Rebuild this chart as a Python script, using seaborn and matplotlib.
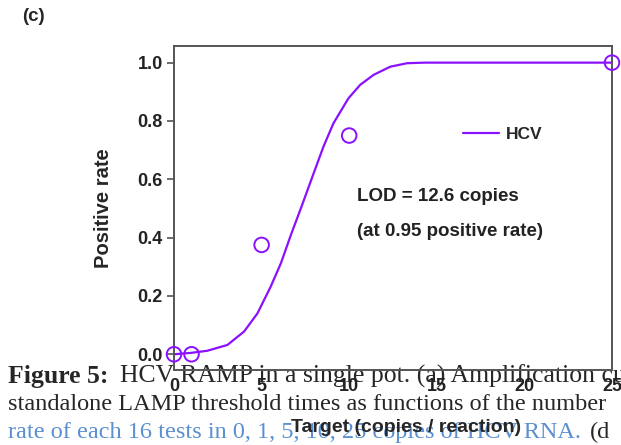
import seaborn as sns
import pandas as pd
import matplotlib
matplotlib.use('Agg')
import matplotlib.pyplot as plt

# measured points
target = [0, 1, 5, 10, 25]
rate = [0, 0, 0.375, 0.75, 1.0]

# fitted curve
curve_x = [0, 0.2, 1, 1.9, 3.05, 4.0, 4.76, 5.52, 6.1, 6.67, 7.3, 7.87, 8.53, 9.1,
           9.96, 10.63, 11.39, 12.34, 13.3, 14.3, 15.5, 17, 20, 25]
curve_y = [0, 0.001, 0.005, 0.012, 0.032, 0.078, 0.14, 0.232, 0.312, 0.409, 0.51,
           0.604, 0.712, 0.792, 0.878, 0.924, 0.958, 0.986, 0.998, 1.0, 1.0, 1.0,
           1.0, 1.0]

x_ticks = [0, 5, 10, 15, 20, 25]
y_ticks = [0.0, 0.2, 0.4, 0.6, 0.8, 1.0]

pts = pd.DataFrame({'target': target, 'rate': rate})
fit = pd.DataFrame({'target': curve_x, 'rate': curve_y})

sns.set_style('ticks')
plt.rcParams['font.family'] = ['Liberation Sans', 'DejaVu Sans']

purple = '#8a10ff'
fig = plt.figure(figsize=(6.21, 4.45), dpi=100)
ax = fig.add_axes([0.2802, 0.1685, 0.7053, 0.7281])
ax.set_facecolor('none')

sns.lineplot(data=fit, x='target', y='rate', color=purple, linewidth=1.6, ax=ax, label='HCV')
sns.scatterplot(data=pts, x='target', y='rate', marker='o', s=110, facecolor='none',
                edgecolor=purple, linewidth=1.4, ax=ax, clip_on=False, zorder=5)

ax.set_xlim(0, 25)
ax.set_ylim(-0.054, 1.057)
ax.set_xticks(x_ticks)
ax.set_yticks(y_ticks)
ax.set_xticklabels([str(v) for v in x_ticks], fontsize=13, fontweight='bold', color='#222222')
ax.set_yticklabels(['%.1f' % v for v in y_ticks], fontsize=13, fontweight='bold', color='#222222')
ax.tick_params(axis='y', length=5, width=1.2, color='#555555', pad=3)
ax.tick_params(axis='x', length=0, pad=6)
ax.set_xlabel('Target (copies / reaction)', fontsize=14, fontweight='bold')
ax.xaxis.set_label_coords(0.53, -0.15)
ax.set_ylabel('Positive rate', fontsize=14.5, fontweight='bold', labelpad=18)
for s in ax.spines.values():
    s.set_visible(True)
    s.set_color('#555555')
    s.set_linewidth(1.4)

leg = ax.legend(loc='upper left', bbox_to_anchor=(0.624, 0.80), frameon=False,
                prop={'weight': 'bold', 'size': 12.5}, handlelength=2.07, handletextpad=0.4)

ax.text(0.417, 0.534, 'LOD = 12.6 copies', transform=ax.transAxes, fontsize=13.5,
        fontweight='bold', va='center', color='#222222')
ax.text(0.417, 0.426, '(at 0.95 positive rate)', transform=ax.transAxes, fontsize=13.5,
        fontweight='bold', va='center', color='#222222')

fig.text(0.035, 0.962, '(c)', fontsize=13.5, fontweight='bold', va='center')

# caption underneath the chart
serif = ['Liberation Serif', 'DejaVu Serif']
cap = 17.5
fig.text(0.013, 0.155, 'Figure 5:', family=serif, fontsize=18.5, fontweight='bold',
         va='center', zorder=-1)
fig.text(0.193, 0.155, 'HCV RAMP in a single pot. (a) Amplification cu', family=serif,
         fontsize=18.5, va='center', zorder=-1)
fig.text(0.013, 0.092, 'standalone LAMP threshold times as functions of the number',
         family=serif, fontsize=cap, va='center', zorder=-1)
fig.text(0.013, 0.029, 'rate of each 16 tests in 0, 1, 5, 10, 25 copies of HCV RNA.',
         family=serif, fontsize=cap, va='center', color='#5b8fd0', zorder=-1)
fig.text(0.950, 0.029, '(d', family=serif, fontsize=cap, va='center', zorder=-1)

fig.savefig('out.png', dpi=100)
